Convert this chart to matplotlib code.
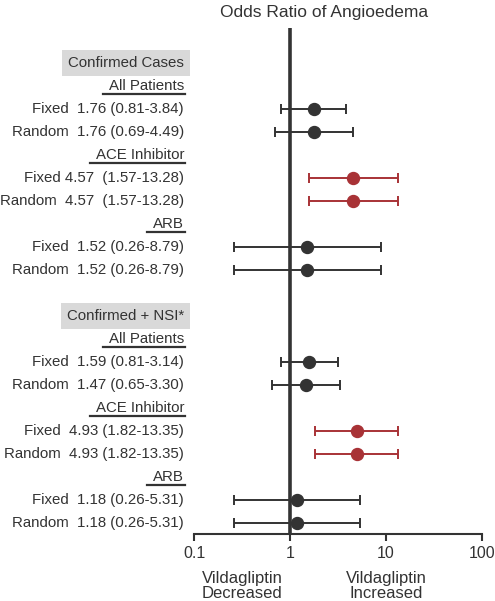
import matplotlib
matplotlib.use('Agg')
import matplotlib.pyplot as plt
from matplotlib.lines import Line2D
import matplotlib.transforms as mtransforms

plt.rcParams['font.family'] = ['Liberation Sans', 'DejaVu Sans']

# data
groups = ['Confirmed Cases', 'Confirmed + NSI*']
subgroups = ['All Patients', 'ACE Inhibitor', 'ARB']
row_labels = [
    'Fixed  1.76 (0.81-3.84)', 'Random  1.76 (0.69-4.49)',
    'Fixed 4.57  (1.57-13.28)', 'Random  4.57  (1.57-13.28)',
    'Fixed  1.52 (0.26-8.79)', 'Random  1.52 (0.26-8.79)',
    'Fixed  1.59 (0.81-3.14)', 'Random  1.47 (0.65-3.30)',
    'Fixed  4.93 (1.82-13.35)', 'Random  4.93 (1.82-13.35)',
    'Fixed  1.18 (0.26-5.31)', 'Random  1.18 (0.26-5.31)',
]
odds = [1.76, 1.76, 4.57, 4.57, 1.52, 1.52, 1.59, 1.47, 4.93, 4.93, 1.18, 1.18]
ci_lo = [0.81, 0.69, 1.57, 1.57, 0.26, 0.26, 0.81, 0.65, 1.82, 1.82, 0.26, 0.26]
ci_hi = [3.84, 4.49, 13.28, 13.28, 8.79, 8.79, 3.14, 3.30, 13.35, 13.35, 5.31, 5.31]
highlight = ['ACE Inhibitor']

dark = '#333333'
red = '#a83236'
fs = 10.8

W, H = 495, 601
fig = plt.figure(figsize=(W / 100, H / 100), dpi=100)
ax = fig.add_axes([194 / W, 1 - 534 / H, 288 / W, (534 - 28) / H])
ax.set_xscale('log')
ax.set_xlim(0.1, 100)
ax.set_ylim(20.48, -1.52)

for s in ['top', 'right', 'left']:
    ax.spines[s].set_visible(False)
ax.spines['bottom'].set_color(dark)
ax.spines['bottom'].set_linewidth(1.5)
ax.set_yticks([])
ax.set_xticks([0.1, 1, 10, 100])
ax.set_xticklabels(['0.1', '1', '10', '100'])
ax.xaxis.set_minor_locator(matplotlib.ticker.NullLocator())
ax.tick_params(axis='x', direction='out', length=5, width=1.5, color=dark,
               labelsize=11.5, labelcolor=dark, pad=4)
ax.axvline(1, color=dark, lw=2.6, zorder=1)

lab_tr = mtransforms.blended_transform_factory(fig.transFigure, ax.transData)
lab_x = 184 / W

underlined = []
row = 0
k = 0
for g in groups:
    ax.text(lab_x, row, g, transform=lab_tr, ha='right', va='center', fontsize=fs,
            color=dark, bbox=dict(boxstyle='square,pad=0.38', fc='#d9d9d9', ec='none'))
    row += 1
    for sg in subgroups:
        t = ax.text(lab_x, row, sg, transform=lab_tr, ha='right', va='center',
                    fontsize=fs, color=dark)
        underlined.append(t)
        row += 1
        c = red if sg in highlight else dark
        for m in range(2):
            ax.text(lab_x, row, row_labels[k], transform=lab_tr, ha='right',
                    va='center', fontsize=fs, color=dark)
            ax.errorbar(odds[k], row, xerr=[[odds[k] - ci_lo[k]], [ci_hi[k] - odds[k]]],
                        fmt='o', color=c, ms=8.6, elinewidth=1.4, capsize=3.5,
                        capthick=1.4, zorder=3)
            row += 1
            k += 1
    row += 1

fig.text(324 / W, 1 - 12 / H, 'Odds Ratio of Angioedema', fontsize=12.5, color=dark,
         ha='center', va='center')

tr = mtransforms.blended_transform_factory(ax.transData, fig.transFigure)
ax.text(0.316, 1 - 586 / H, 'Vildagliptin\nDecreased', transform=tr, ha='center',
        va='center', fontsize=12, color=dark, linespacing=1.0)
ax.text(10, 1 - 586 / H, 'Vildagliptin\nIncreased', transform=tr, ha='center',
        va='center', fontsize=12, color=dark, linespacing=1.0)

fig.canvas.draw()
r = fig.canvas.get_renderer()
for t in underlined:
    bb = t.get_window_extent(r)
    x0 = (bb.x0 - 6) / W
    x1 = (bb.x1 + 1) / W
    y = (bb.y0 - 1) / H
    fig.add_artist(Line2D([x0, x1], [y, y], transform=fig.transFigure,
                          color=dark, lw=1.6))

fig.savefig('out.png', dpi=100, facecolor='white')
